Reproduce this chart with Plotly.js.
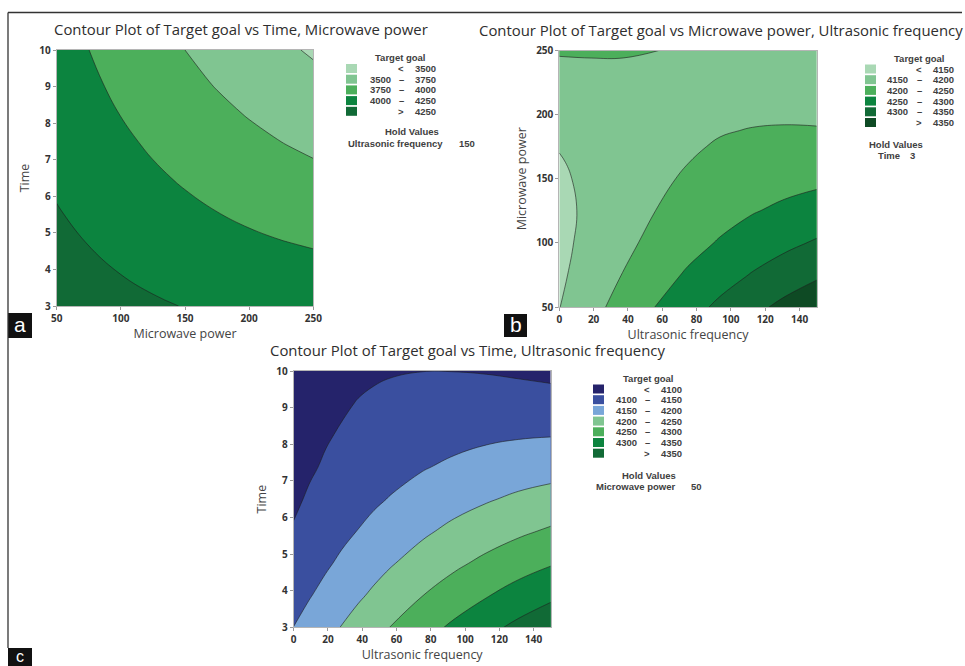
<!DOCTYPE html>
<html><head><meta charset="utf-8">
<script src="https://cdn.plot.ly/plotly-3.0.1.min.js"></script>
<style>html,body{margin:0;padding:0;background:#fff}#chart{width:965px;height:666px}</style>
</head><body><div id="chart"></div>
<script>
// ---------- Panel a: Target goal vs Time, Microwave power (hold Ultrasonic frequency 150)
const mwA   = [50, 75, 100, 125, 150, 175, 200, 225, 250];
const timeA = [3, 3.875, 4.75, 5.625, 6.5, 7.375, 8.25, 9.125, 10];
const zA = [
  [4388, 4346, 4308, 4274, 4244, 4219, 4198, 4181, 4168],
  [4342, 4294, 4249, 4209, 4174, 4142, 4115, 4092, 4073],
  [4299, 4244, 4194, 4148, 4106, 4068, 4034, 4005, 3980],
  [4258, 4197, 4141, 4088, 4040, 3996, 3956, 3921, 3890],
  [4220, 4153, 4090, 4031, 3977, 3927, 3881, 3839, 3802],
  [4184, 4111, 4042, 3977, 3917, 3860, 3808, 3760, 3717],
  [4151, 4072, 3996, 3925, 3859, 3796, 3738, 3684, 3634],
  [4120, 4035, 3953, 3876, 3803, 3734, 3670, 3610, 3554],
  [4092, 4001, 3913, 3829, 3750, 3675, 3605, 3538, 3476]
];
const levelsA = [3500, 3750, 4000, 4250];
const colorsA = ['#a9d8b4', '#80c591', '#4caf5b', '#0c843f', '#116a36'];
const holdA = ['Ultrasonic frequency', '150'];

// ---------- Panel b: Target goal vs Microwave power, Ultrasonic frequency (hold Time 3)
const usB = [0, 18.75, 37.5, 56.25, 75, 93.75, 112.5, 131.25, 150];
const mwB = [50, 75, 100, 125, 150, 162.5, 175, 187.5, 200, 225, 250];
const zB = [
  [4149, 4185, 4219, 4251, 4281, 4310, 4337, 4362, 4386],
  [4142, 4173, 4202, 4230, 4256, 4280, 4303, 4324, 4343],
  [4138, 4165, 4189, 4213, 4234, 4254, 4273, 4289, 4305],
  [4138, 4160, 4181, 4200.2, 4217, 4233, 4247, 4259, 4270],
  [4143, 4161, 4177, 4192, 4205, 4216, 4226, 4234, 4240],
  [4146.9, 4162.6, 4176.6, 4189, 4199.7, 4208.9, 4216.4, 4222.3, 4226.5],
  [4152, 4165, 4177, 4187, 4196, 4203, 4208, 4212, 4214],
  [4157.9, 4169.2, 4178.9, 4186.9, 4193.3, 4198.1, 4201.3, 4202.9, 4202.8],
  [4165, 4174, 4182, 4188, 4192, 4194, 4195, 4195, 4193],
  [4182, 4187, 4190, 4192, 4192, 4190, 4187, 4182, 4175],
  [4204, 4204, 4203, 4200.4, 4196, 4190, 4182, 4173, 4162]
];
const levelsB = [4150, 4200, 4250, 4300, 4350];
const colorsB = ['#a9d8b4', '#80c591', '#4caf5b', '#0c843f', '#116a36', '#0e4a24'];
const holdB = ['Time', '3'];

// ---------- Panel c: Target goal vs Time, Ultrasonic frequency (hold Microwave power 50)
const usC   = [0, 9.375, 18.75, 28.125, 37.5, 46.875, 56.25, 75, 93.75, 112.5, 131.25, 150];
const timeC = [3, 3.875, 4.75, 5.625, 6.5, 7.375, 8.25, 8.6875, 9.125, 9.5625, 10];
const zC = [
  [4150.5, 4167.8, 4185, 4202, 4219, 4234.7, 4250.5, 4281, 4309, 4336, 4362, 4385],
  [4131.5, 4147.6, 4163, 4178.5, 4193, 4207.7, 4222, 4249, 4274, 4297, 4319, 4340],
  [4116, 4130.3, 4144, 4157.7, 4171, 4183.5, 4196, 4219, 4241, 4261, 4280, 4296],
  [4103, 4115.9, 4128, 4139.8, 4151, 4162.1, 4173, 4192.5, 4211, 4227, 4242, 4256],
  [4094, 4104.4, 4115, 4124.8, 4134, 4143.5, 4152, 4168.5, 4183, 4196, 4208, 4217],
  [4087, 4095.8, 4104, 4112.6, 4120, 4127.7, 4135, 4147, 4158, 4168, 4175.5, 4182],
  [4083, 4090.1, 4097, 4103.2, 4109, 4114.6, 4120, 4129, 4136, 4142, 4146, 4148],
  [4082, 4088.4, 4094, 4099.5, 4104.5, 4109.1, 4113, 4120.4, 4126, 4130, 4132, 4132.7],
  [4082, 4087.3, 4092, 4096.6, 4101, 4104.3, 4108, 4113, 4116.5, 4118.5, 4119, 4118],
  [4083, 4087, 4091, 4094.4, 4097.5, 4100.25, 4102.5, 4106, 4107.7, 4107.8, 4106.3, 4103.2],
  [4084, 4087.4, 4090, 4092.9, 4095, 4096.9, 4098, 4099.7, 4099.6, 4098, 4094, 4089]
];
const levelsC = [4100, 4150, 4200, 4250, 4300, 4350];
const colorsC = ['#25236b', '#3a4f9f', '#79a6d8', '#80c591', '#4caf5b', '#0c843f', '#116a36'];
const holdC = ['Microwave power', '50'];

const titles = [
  'Contour Plot of Target goal vs Time, Microwave power',
  'Contour Plot of Target goal vs Microwave power, Ultrasonic frequency',
  'Contour Plot of Target goal vs Time, Ultrasonic frequency'
];

// ---------- helpers
const W = 965, H = 666;
const PX = x => x / W;
const PY = y => 1 - y / H;
const FONT = '"Open Sans", "Noto Sans", sans-serif';
const LFONT = '"Liberation Sans", Arial, sans-serif';
const TXT = '#3a3a3a';

function stepScale(colors) {
  const n = colors.length, s = [];
  colors.forEach((c, i) => {
    const lo = i === 0 ? 0 : (i - 0.5) / (n - 1);
    const hi = i === n - 1 ? 1 : (i + 0.5) / (n - 1);
    s.push([lo, c]); s.push([hi, c]);
  });
  return s;
}

function contourTrace(x, y, z, levels, colors, xa, ya) {
  return {
    type: 'contour', x: x, y: y, z: z, xaxis: xa, yaxis: ya,
    showscale: false, hoverinfo: 'skip',
    contours: {start: levels[0], end: levels[levels.length - 1], size: levels[1] - levels[0], coloring: 'fill'},
    colorscale: stepScale(colors),
    line: {color: '#1e1e1e', width: 0.6, smoothing: 1.2}
  };
}

const shapes = [];
const annotations = [];

function text(t, x, y, opts) {
  annotations.push(Object.assign({
    text: t, x: PX(x), y: PY(y), xref: 'paper', yref: 'paper', showarrow: false,
    xanchor: 'center', yanchor: 'middle', borderpad: 0,
    font: {family: FONT, size: 10.5, color: TXT}
  }, opts || {}));
}

const LF = {family: LFONT, size: 9.5, color: '#404040', weight: 'bold'};

function legend(levels, colors, hold, o) {
  text('Target goal', o.titleX, o.titleY, {font: LF});
  for (let i = 0; i < colors.length; i++) {
    const yc = o.y0 + i * o.dy;
    shapes.push({type: 'rect', xref: 'paper', yref: 'paper',
      x0: PX(o.sx0), x1: PX(o.sx0 + 11), y0: PY(yc + 4.5), y1: PY(yc - 4.5),
      fillcolor: colors[i], line: {width: 0}});
    let a, sym, b;
    if (i === 0) { a = ''; sym = '<'; b = levels[0]; }
    else if (i === colors.length - 1) { a = ''; sym = '>'; b = levels[levels.length - 1]; }
    else { a = levels[i - 1]; sym = '–'; b = levels[i]; }
    if (a !== '') text(String(a), o.n1, yc, {xanchor: 'right', font: LF});
    text(sym, o.sym, yc, {font: LF});
    text(String(b), o.n2, yc, {xanchor: 'right', font: LF});
  }
  text('Hold Values', o.hvX, o.hvY, {font: LF});
  text(hold[0], o.h1, o.hvY + 11, {xanchor: 'left', font: LF});
  text(hold[1], o.h2, o.hvY + 11, {xanchor: o.h2anchor, font: LF});
}

legend(levelsA, colorsA, holdA, {titleX: 400, titleY: 57.5, y0: 68.5, dy: 10.7, sx0: 346, n1: 392, sym: 401, n2: 437, hvX: 412, hvY: 132, h1: 347, h2: 476, h2anchor: 'right'});
legend(levelsB, colorsB, holdB, {titleX: 919, titleY: 58.5, y0: 69, dy: 10.7, sx0: 865, n1: 909, sym: 919, n2: 955, hvX: 896, hvY: 144, h1: 877, h2: 912, h2anchor: 'center'});
legend(levelsC, colorsC, holdC, {titleX: 648, titleY: 378.5, y0: 389, dy: 10.7, sx0: 593, n1: 638, sym: 647, n2: 683, hvX: 649, hvY: 475, h1: 595, h2: 703, h2anchor: 'right'});

// titles
const tf = {family: FONT, size: 14.9, color: '#2e2e2e'};
text(titles[0], 240.5, 29, {font: tf});
text(titles[1], 721, 30, {font: tf});
text(titles[2], 467, 350, {font: tf});

// panel letters
[['a', 8, 313, 32, 338, 21, 324.5], ['b', 504, 314, 527, 337, 21, 324.5], ['c', 8, 648, 32, 668, 16, 656.5]].forEach(p => {
  shapes.push({type: 'rect', xref: 'paper', yref: 'paper', x0: PX(p[1]), x1: PX(p[3]), y0: PY(p[4]), y1: PY(p[2]),
    fillcolor: '#111', line: {width: 0}});
  text(p[0], (p[1] + p[3]) / 2, p[6], {font: {family: LFONT, size: p[5], color: '#fff'}});
});

// frame lines
shapes.push({type: 'line', xref: 'paper', yref: 'paper', x0: PX(8), x1: PX(962), y0: PY(12.5), y1: PY(12.5), line: {color: '#333', width: 1.3}});
shapes.push({type: 'line', xref: 'paper', yref: 'paper', x0: PX(8), x1: PX(8), y0: PY(12.5), y1: PY(648), line: {color: '#333', width: 1.3}});

function axis(domain, range, dtick, tick0, title, anchor, isY) {
  return {
    domain: domain, range: range, dtick: dtick, tick0: tick0, anchor: anchor,
    ticks: 'outside', ticklen: 3, tickcolor: '#999', tickwidth: 1,
    tickfont: {family: FONT, size: 10, color: '#333', weight: 'bold'},
    showline: true, mirror: true, linecolor: '#b5b5b5', linewidth: 1,
    showgrid: false, zeroline: false, automargin: false,
    title: {text: title, font: {family: FONT, size: 12.5, color: '#444'}, standoff: isY ? 6 : 3}
  };
}

const layout = {
  width: W, height: H, margin: {l: 0, r: 0, t: 0, b: 0},
  paper_bgcolor: '#fff', plot_bgcolor: '#fff', showlegend: false,
  xaxis:  axis([PX(56.7), PX(313.3)], [50, 250], 50, 50, 'Microwave power', 'y', false),
  yaxis:  axis([PY(306), PY(50)], [3, 10], 1, 3, 'Time', 'x', true),
  xaxis2: axis([PX(559.3), PX(816.7)], [0, 150], 20, 0, 'Ultrasonic frequency', 'y2', false),
  yaxis2: axis([PY(307), PY(50.5)], [50, 250], 50, 50, 'Microwave power', 'x2', true),
  xaxis3: axis([PX(293.7), PX(550.7)], [0, 150], 20, 0, 'Ultrasonic frequency', 'y3', false),
  yaxis3: axis([PY(627.3), PY(371)], [3, 10], 1, 3, 'Time', 'x3', true),
  shapes: shapes, annotations: annotations
};

const data = [
  contourTrace(mwA, timeA, zA, levelsA, colorsA, 'x', 'y'),
  contourTrace(usB, mwB, zB, levelsB, colorsB, 'x2', 'y2'),
  contourTrace(usC, timeC, zC, levelsC, colorsC, 'x3', 'y3')
];

Plotly.newPlot('chart', data, layout, {displayModeBar: false, staticPlot: true});
</script>
</body></html>
